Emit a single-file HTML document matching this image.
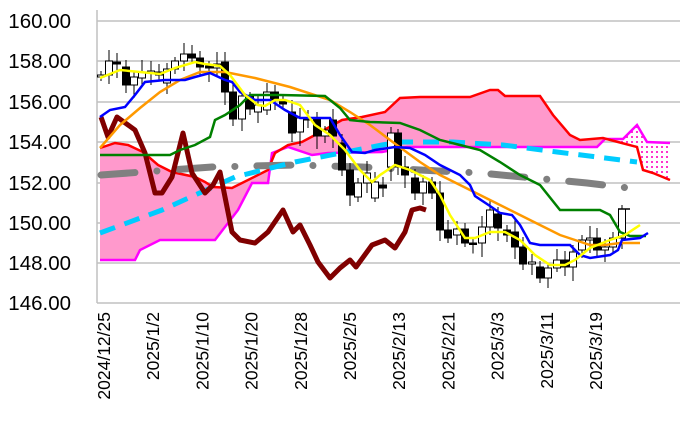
<!DOCTYPE html>
<html><head><meta charset="utf-8"><style>
html,body{margin:0;padding:0;background:#fff;width:681px;height:443px;overflow:hidden}
svg text{font-family:"Liberation Sans",Arial,sans-serif;fill:#000}
</style></head><body>
<svg id="s" width="681" height="443" xmlns="http://www.w3.org/2000/svg">
<defs>
<pattern id="dots" width="5" height="5" patternUnits="userSpaceOnUse"><rect width="5" height="5" fill="#fff"/><rect x="1" y="1" width="2" height="2" fill="#ff33cc"/></pattern>
</defs>
<g stroke="#c0c0c0" stroke-width="1.5">
<line x1="97" y1="21" x2="680" y2="21"/><line x1="97" y1="61" x2="680" y2="61"/><line x1="97" y1="102" x2="680" y2="102"/><line x1="97" y1="142" x2="680" y2="142"/><line x1="97" y1="183" x2="680" y2="183"/><line x1="97" y1="223" x2="680" y2="223"/><line x1="97" y1="263" x2="680" y2="263"/><line x1="97" y1="303" x2="680" y2="303"/><line x1="97" y1="10" x2="97" y2="303"/>
</g>
<g font-size="20.5" text-anchor="end">
<text x="71" y="28">160.00</text><text x="71" y="68">158.00</text><text x="71" y="109">156.00</text><text x="71" y="149">154.00</text><text x="71" y="190">152.00</text><text x="71" y="230">150.00</text><text x="71" y="270">148.00</text><text x="71" y="310">146.00</text>
</g>
<g font-size="17.5" text-anchor="end" id="xl"></g>
<polygon fill="#ff99cc" points="100,148 115,143 128,145 143,152 158,165 172,172 195,177 205,182 213,187 232,188 268,170 275,153 288,145 302,142 315,135 342,120 362,117 385,112 400,98 420,97 470,97 490,90 498,90 505,96 540,96 553,115 570,135 580,140 603,138 605,139 597,147 407,147 382,152 328,153 312,155 288,147 272,153 268,183 252,183 238,210 215,240 160,240 140,250 135,260 100,260"/>
<polygon fill="url(#dots)" points="623,139 637,125 647,142 670,143 670,180 653,173 643,170 637,147 618,142"/>
<polyline fill="none" stroke="#ff00ff" stroke-width="2.5" points="100,260 135,260 140,250 160,240 215,240 238,210 252,183 268,183 272,153 288,147 312,155 328,153 382,152 407,147 597,147 605,139 623,139 637,125 647,142 670,143"/>
<polyline fill="none" stroke="#ff0000" stroke-width="2.5" points="100,148 115,143 128,145 143,152 158,165 172,172 195,177 205,182 213,187 232,188 268,170 275,153 288,145 302,142 315,135 342,120 362,117 385,112 400,98 420,97 470,97 490,90 498,90 505,96 540,96 553,115 570,135 580,140 603,138 618,142 637,147 643,170 653,173 670,180"/>
<polyline fill="none" stroke="#808080" stroke-width="7" stroke-linecap="round" stroke-dasharray="34 22 0.1 22" points="101,175 212,167 295,165 362,167 480,173 587,183 637,189"/>
<polyline fill="none" stroke="#00ccff" stroke-width="5" stroke-dasharray="16 10" points="100,233 162,210 235,177 295,162 382,145 400,142 453,142 503,145 557,152 637,162"/>
<polyline fill="none" stroke="#800000" stroke-width="5" stroke-linejoin="round" points="101,117 108,137 117,117 135,130 145,153 155,193 162,193 172,177 183,133 192,173 205,193 213,185 220,172 232,232 240,240 255,243 268,232 283,210 293,232 300,225 310,245 318,262 330,278 340,268 350,260 356,267 372,245 385,240 395,248 405,232 412,210 420,208 426,210"/>
<g id="cd"></g>
<polyline fill="none" stroke="#ff9900" stroke-width="2.5" points="100,148 120,125 140,108 160,92 180,80 200,72 225,72 255,78 290,87 330,100 350,112 370,125 390,140 420,162 440,175 460,185 480,195 500,205 520,215 540,225 560,235 575,240 590,245 605,245 620,243 640,243"/>
<polyline fill="none" stroke="#008000" stroke-width="2.5" points="100,155 170,155 180,150 195,145 210,137 215,120 225,115 240,105 250,95 280,95 325,96 340,108 350,120 370,122 400,123 420,130 440,140 460,145 480,150 500,162 520,175 540,185 560,210 600,210 610,215 620,232 630,236 646,236"/>
<polyline fill="none" stroke="#0000ff" stroke-width="2.5" points="100,117 110,110 125,107 135,95 145,82 165,80 185,80 195,77 210,73 225,80 232,82 240,92 255,100 270,100 285,110 300,118 330,118 340,135 352,152 365,153 375,150 395,147 410,148 425,155 440,165 460,175 470,185 475,196 490,206 500,213 512,215 520,225 530,243 540,245 570,245 580,255 590,258 610,255 618,250 622,240 640,238 648,233"/>
<polyline fill="none" stroke="#ffff00" stroke-width="2.5" points="100,78 110,74 120,70 140,72 160,74 175,68 195,62 205,64 220,66 230,75 245,95 258,105 265,106 275,100 285,100 300,105 315,125 330,135 345,150 360,170 372,182 380,175 395,165 410,170 430,180 440,195 450,215 465,238 475,238 490,232 505,232 520,240 535,255 550,265 565,265 575,260 590,248 610,240 625,235 640,225"/>
</svg>
<script>
var c=[[101,77,75],[109,75,61],[117,62,64],[126,67,85],[134,85,77],[142,78,72],[151,73,71],[159,72,75],[167,83,69],[175,69,61],[184,61,54],[192,54,58],[200,58,67],[209,66,68],[217,68,64],[225,62,92],[233,92,119],[242,119,96],[250,96,109],[258,112,105],[267,110,92],[275,92,100],[283,100,104],[292,112,133],[300,132,118],[308,118,120],[317,118,136],[325,136,130],[333,120,136],[342,143,170],[350,170,195],[358,197,183],[367,183,173],[375,198,182],[383,185,188],[391,167,133],[398,133,167],[405,167,175],[415,178,193],[423,193,182],[432,182,193],[440,193,230],[448,230,238],[457,235,229],[465,229,243],[473,243,243],[482,243,227],[490,227,210],[498,214,228],[507,230,235],[515,232,247],[523,247,264],[532,264,262],[540,267,278],[548,278,268],[557,268,260],[565,260,267],[573,267,252],[582,250,240],[590,240,238],[597,238,250],[605,250,247],[613,247,238],[622,238,209]];
var s='';
c.forEach(function(d,i){var x=d[0],o=d[1],cl=d[2],t=Math.min(o,cl),b=Math.max(o,cl);if(b-t<1.5)b=t+1.5;
var hi=t-4-(i*7%9),lo=b+4+(i*5%11);
s+='<line x1="'+x+'" y1="'+hi+'" x2="'+x+'" y2="'+lo+'" stroke="#000" stroke-width="1"/>';
s+='<rect x="'+(x-3.5)+'" y="'+t+'" width="7" height="'+(b-t)+'" fill="'+(cl<o?'#fff':'#000')+'" stroke="#000" stroke-width="1"/>';});
s+='<line x1="618" y1="209" x2="630" y2="209" stroke="#000" stroke-width="1.5"/>';
document.getElementById('cd').innerHTML=s;
var L=['2024/12/25','2025/1/2','2025/1/10','2025/1/20','2025/1/28','2025/2/5','2025/2/13','2025/2/21','2025/3/3','2025/3/11','2025/3/19'],t='';
L.forEach(function(l,i){var x=110+49.2*i;t+='<text transform="translate('+x+',312) rotate(-90)">'+l+'</text>';});
document.getElementById('xl').innerHTML=t;
</script>
</body></html>
